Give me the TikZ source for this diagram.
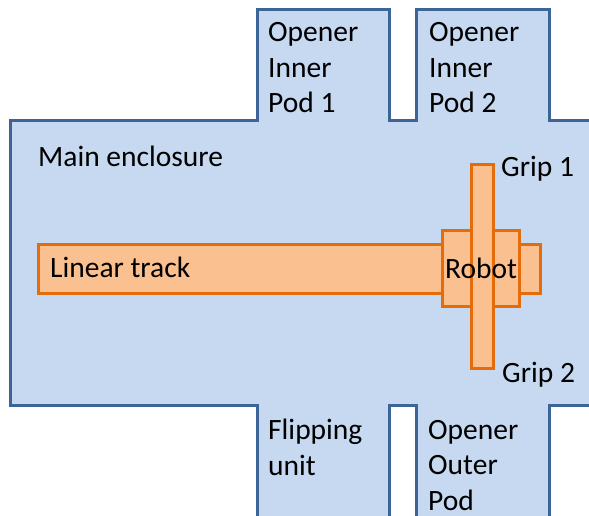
\documentclass[tikz,border=0pt]{standalone}
\usepackage{fontspec}
\setmainfont{Carlito}
\usetikzlibrary{positioning}

\definecolor{encfill}{HTML}{C6D9F1}
\definecolor{encline}{HTML}{3D6496}
\definecolor{partfill}{HTML}{FAC090}
\definecolor{partline}{HTML}{E46C0A}

\begin{document}
\begin{tikzpicture}[x=1pt, y=-1pt,
    part/.style={rectangle, draw=partline, fill=partfill, line width=3pt, inner sep=0pt},
    lbl/.style={anchor=base west, inner sep=0pt, align=left, font=\fontsize{29.5}{35.5}\selectfont}
]
\clip (0,0) rectangle (589,516);

% Main enclosure with the pods
\draw[encline, fill=encfill, line width=3pt]
    (10,121) -- (257,121) -- (257,10) -- (389,10) -- (389,121)
    -- (416,121) -- (416,10) -- (549,10) -- (549,121) -- (600,121)
    -- (600,405) -- (549,405) -- (549,530) -- (416,530) -- (416,405)
    -- (389,405) -- (389,530) -- (257,530) -- (257,405) -- (10,405) -- cycle;

% Robot on the track
\node[part, minimum width=502pt, minimum height=49pt] at (289,268.5) (track) {};
\node[part, minimum width=77pt, minimum height=76pt] at (480.5,268) (body) {};
\node[part, minimum width=22pt, minimum height=203pt] at (482,266.5) (grip) {};

% Labels (base = last line)
\node[lbl] at (268,113) (pod1) {Opener\\Inner\\Pod 1};
\node[lbl] at (429,113) (pod2) {Opener\\Inner\\Pod 2};
\node[lbl] at (38,167) (main) {Main enclosure};
\node[lbl] at (50,277) (tracklbl) {Linear track};
\node[lbl] at (445,278) (robot) {Robot};
\node[lbl] at (501,176) (grip1) {Grip 1};
\node[lbl] at (502,382) (grip2) {Grip 2};
\node[lbl] at (268,475) (flip) {Flipping\\unit};
\node[lbl] at (428,510) (outer) {Opener\\Outer\\Pod};
\end{tikzpicture}
\end{document}
